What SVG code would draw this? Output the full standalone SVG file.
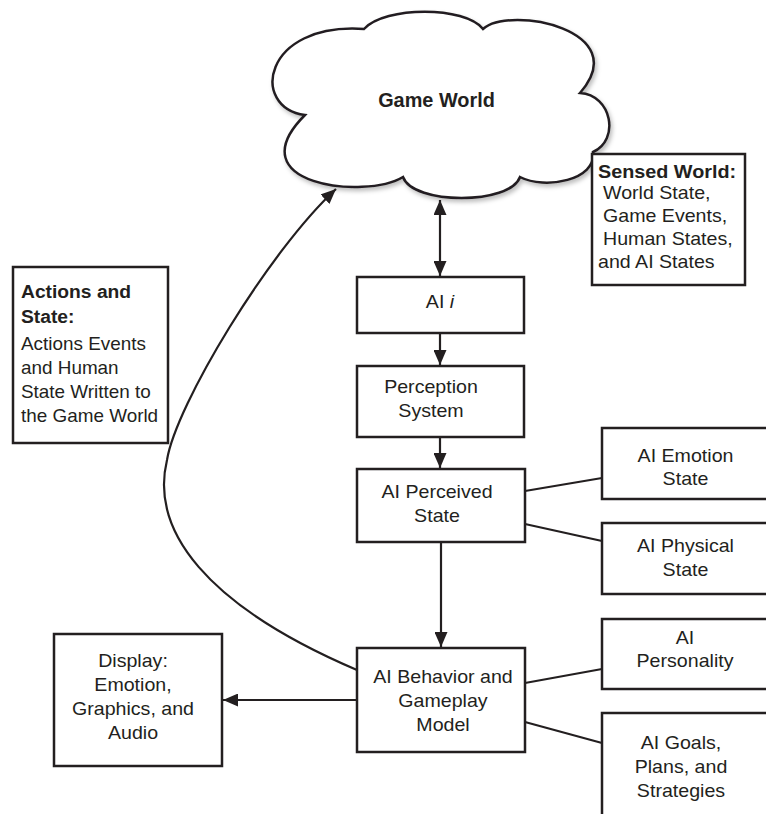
<svg xmlns="http://www.w3.org/2000/svg" width="766" height="814" viewBox="0 0 766 814">
<defs>
<style>
.box{fill:#fff;stroke:#231f20;stroke-width:2.5}
.ln{fill:none;stroke:#231f20;stroke-width:2.2}
.t{font-family:"Liberation Sans",Arial,sans-serif;font-size:18px;fill:#231f20}
.c{text-anchor:middle}
.b{font-weight:bold}
</style>
<marker id="ah" markerUnits="userSpaceOnUse" markerWidth="16" markerHeight="13" refX="15" refY="6.5" orient="auto-start-reverse" viewBox="0 0 16 13">
<path d="M0,0 L15,6.5 L0,13 z" fill="#231f20"/>
</marker>
<filter id="sh" x="-10%" y="-10%" width="125%" height="130%">
<feDropShadow dx="2" dy="3" stdDeviation="2" flood-color="#000" flood-opacity="0.25"/>
</filter>
</defs>
<rect width="766" height="814" fill="#fff"/>

<g id="game-world">
<path class="box" filter="url(#sh)" d="M364,29 C385,6 465,6 483,29 C510,5 635,30 580,93 C612,95 620,140 593,152 C597,180 545,190 520,177 C510,205 413,205 403,177 C365,200 235,185 305,115 C250,108 262,22 364,29 Z"/>
<text class="t b c" style="font-size:19.5px" transform="translate(436.5 0) scale(1.02 1)"><tspan x="0" y="107">Game World</tspan></text>
</g>

<g id="sensed-world">
<rect class="box" x="592" y="154" width="153" height="131"/>
<text class="t b" transform="translate(598 0) scale(1.1 1)"><tspan x="0" y="178">Sensed World:</tspan></text>
<text class="t" transform="translate(603 0) scale(1.09 1)"><tspan x="0" y="199">World State,</tspan><tspan x="0" y="222">Game Events,</tspan><tspan x="0" y="245">Human States,</tspan></text>
<text class="t" transform="translate(598 0) scale(1.09 1)"><tspan x="0" y="268">and AI States</tspan></text>
</g>

<g id="actions-state">
<rect class="box" x="13" y="267" width="155" height="176"/>
<text class="t b" transform="translate(21 0) scale(1.07 1)"><tspan x="0" y="298">Actions and</tspan><tspan x="0" y="323">State:</tspan></text>
<text class="t" transform="translate(21 0) scale(1.05 1)"><tspan x="0" y="350">Actions Events</tspan><tspan x="0" y="374">and Human</tspan><tspan x="0" y="398">State Written to</tspan><tspan x="0" y="422">the Game World</tspan></text>
</g>

<g id="ai-i">
<rect class="box" x="357" y="277" width="167" height="56"/>
<text class="t c" transform="translate(440 0) scale(1.09 1)"><tspan x="0" y="308">AI <tspan font-style="italic">i</tspan></tspan></text>
</g>

<g id="perception">
<rect class="box" x="357" y="366" width="167" height="71"/>
<text class="t c" transform="translate(431 0) scale(1.09 1)"><tspan x="0" y="393">Perception</tspan><tspan x="0" y="417">System</tspan></text>
</g>

<g id="perceived-state">
<rect class="box" x="357" y="469" width="168" height="73"/>
<text class="t c" transform="translate(437 0) scale(1.09 1)"><tspan x="0" y="498">AI Perceived</tspan><tspan x="0" y="522">State</tspan></text>
</g>

<g id="emotion-state">
<rect class="box" x="602" y="428" width="175" height="71"/>
<text class="t c" transform="translate(685.5 0) scale(1.09 1)"><tspan x="0" y="462">AI Emotion</tspan><tspan x="0" y="485">State</tspan></text>
</g>

<g id="physical-state">
<rect class="box" x="602" y="523" width="175" height="71"/>
<text class="t c" transform="translate(685.5 0) scale(1.09 1)"><tspan x="0" y="552">AI Physical</tspan><tspan x="0" y="576">State</tspan></text>
</g>

<g id="behavior">
<rect class="box" x="357" y="648" width="168" height="104"/>
<text class="t c" transform="translate(443 0) scale(1.09 1)"><tspan x="0" y="683">AI Behavior and</tspan><tspan x="0" y="707">Gameplay</tspan><tspan x="0" y="731">Model</tspan></text>
</g>

<g id="display">
<rect class="box" x="54" y="634" width="168" height="132"/>
<text class="t c" transform="translate(133 0) scale(1.09 1)"><tspan x="0" y="667">Display:</tspan><tspan x="0" y="691">Emotion,</tspan><tspan x="0" y="715">Graphics, and</tspan><tspan x="0" y="739">Audio</tspan></text>
</g>

<g id="personality">
<rect class="box" x="602" y="619" width="175" height="70"/>
<text class="t c" transform="translate(685 0) scale(1.09 1)"><tspan x="0" y="644">AI</tspan><tspan x="0" y="667">Personality</tspan></text>
</g>

<g id="goals">
<rect class="box" x="602" y="713" width="175" height="115"/>
<text class="t c" transform="translate(681 0) scale(1.09 1)"><tspan x="0" y="749">AI Goals,</tspan><tspan x="0" y="773">Plans, and</tspan><tspan x="0" y="797">Strategies</tspan></text>
</g>

<g id="connectors">
<line class="ln" x1="440" y1="200" x2="440" y2="276" marker-start="url(#ah)" marker-end="url(#ah)"/>
<line class="ln" x1="440" y1="334" x2="440" y2="365" marker-end="url(#ah)"/>
<line class="ln" x1="440" y1="438" x2="440" y2="468" marker-end="url(#ah)"/>
<line class="ln" x1="441" y1="543" x2="441" y2="647" marker-end="url(#ah)"/>
<line class="ln" x1="356" y1="700" x2="223" y2="700" marker-end="url(#ah)"/>
<line class="ln" x1="525" y1="491" x2="602" y2="478"/>
<line class="ln" x1="525" y1="524" x2="602" y2="541"/>
<line class="ln" x1="525" y1="683" x2="602" y2="669"/>
<line class="ln" x1="525" y1="722" x2="602" y2="743"/>
<path class="ln" d="M357,670 C205,605 150,530 167,460 C176,405 268,252 336,189" marker-end="url(#ah)"/>
</g>
</svg>
